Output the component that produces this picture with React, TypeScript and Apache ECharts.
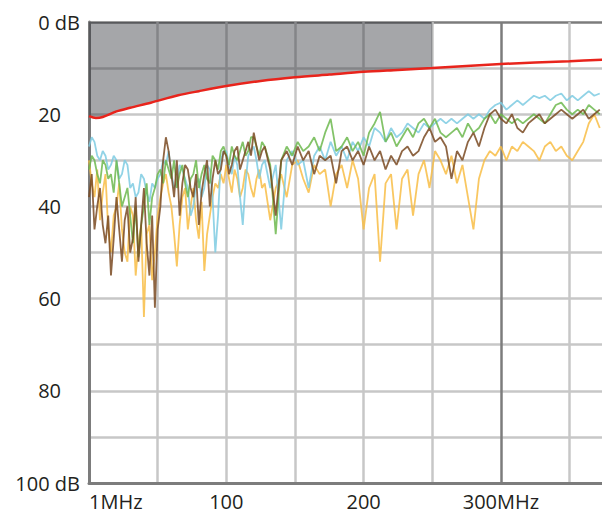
import React, { useEffect, useRef } from "react";
import * as echarts from "echarts";

// Frequency sample points (MHz)
const freqs = [
  0, 2, 4, 6, 8, 10, 12, 14, 16, 18, 20, 22, 24, 26, 28, 30, 32, 34, 36, 38,
  40, 42, 44, 46, 48, 50, 52, 54, 56, 58, 60, 62, 64, 66, 68, 70, 72, 74, 76, 78,
  80, 82, 84, 86, 88, 90, 92, 94, 96, 98, 100, 102, 104, 106, 108, 110, 112, 114, 116, 118,
  120, 122, 124, 126, 128,
  132, 136, 140, 144, 148, 152, 156,
  160, 164, 168, 172, 176, 180, 184, 188, 192, 196, 200, 204, 208, 212, 216, 220, 224, 228, 232, 236,
  240, 244, 248, 252, 256, 260, 264, 268, 272, 276, 280, 284, 288, 292, 296, 300, 304, 308, 312, 316,
  320, 324, 328, 332, 336, 340, 344, 348, 352, 356, 360, 364, 368, 372,
];

// Measured attenuation (dB) per trace
const brownDb = [
  38, 33, 45, 40, 36, 44, 48, 42, 55, 47, 38, 45, 52, 43, 40, 50, 47, 38, 52, 44,
  36, 48, 55, 42, 62, 45, 40, 30, 25, 28, 33, 38, 30, 42, 35, 31, 32, 36, 38, 33,
  44, 37, 33, 30, 40, 34, 30, 33, 32, 28, 29, 33, 31, 28, 27, 32, 30, 28, 26, 29,
  24, 27, 30, 28, 27,
  32, 42, 30, 28, 31, 27, 30,
  28, 33, 29, 30, 29, 35, 28, 27, 30, 28, 31, 27, 30, 28, 32, 29, 31, 28, 27, 29,
  28, 25, 23, 26, 25, 27, 34, 28, 30, 26, 24, 27, 23, 20, 19, 21, 22, 20, 23, 24,
  22, 21, 20, 22, 21, 20, 19, 20, 21, 20, 19, 21, 20, 19,
];
const yellowDb = [
  30, 35, 38, 32, 43, 37, 33, 45, 50, 42, 40, 35, 45, 50, 52, 40, 42, 55, 48, 44,
  64, 46, 44, 56, 50, 42, 38, 35, 33, 37, 40, 46, 53, 44, 38, 36, 45, 40, 36, 43,
  47, 39, 54, 46, 42, 38, 35, 36, 33, 35, 31, 34, 37, 32, 34, 38, 36, 32, 33, 36,
  38, 34, 32, 36, 35,
  43, 36, 33, 38, 31, 30, 34,
  37, 31, 33, 32, 40, 33, 31, 36, 30, 34, 45, 36, 33, 52, 35, 33, 45, 34, 32, 42,
  33, 30, 36, 28, 30, 33, 29, 35, 31, 38, 45, 34, 30, 28, 29, 27, 30, 27, 28, 26,
  27, 28, 30, 27, 26, 28, 27, 29, 30, 28, 26, 22, 20, 23,
];
const greenDb = [
  32, 29, 30, 33, 35, 30, 31, 34, 33, 37, 30, 35, 40, 38, 36, 42, 48, 40, 51, 44,
  40, 35, 44, 38, 36, 33, 32, 35, 30, 32, 34, 30, 36, 33, 31, 35, 38, 34, 33, 30,
  36, 33, 31, 34, 35, 29, 30, 32, 28, 27, 29, 31, 27, 29, 30, 28, 26, 29, 28, 25,
  25, 27, 29, 26, 27,
  31, 46, 30, 27, 29, 26, 28,
  27, 25, 28, 24, 21, 28, 27, 25, 28, 26, 29, 24, 22, 19.5, 26, 24, 27, 25, 23, 25,
  22, 21, 23, 21, 24, 25, 24, 23, 25, 22, 24, 23, 21, 20, 22, 20, 21, 22, 21, 22,
  21, 20, 21, 22, 20, 18, 17.5, 19, 20, 19, 20, 18, 19, 20,
];
const blueDb = [
  27, 25, 26, 29, 30, 28, 29, 32, 31, 29, 30, 34, 33, 30, 31, 36, 35, 38, 37, 33,
  34, 37, 39, 35, 36, 34, 33, 30, 31, 28, 33, 36, 35, 31, 32, 34, 36, 42, 40, 35,
  34, 38, 36, 31, 32, 38, 50, 42, 30, 28, 28, 31, 33, 29, 31, 38, 44, 35, 29, 28,
  27, 30, 34, 31, 30,
  36, 31, 45, 30, 28, 31, 30,
  36, 29, 27, 30, 26, 29, 27, 30, 26, 28, 25, 27, 23, 24, 26, 23, 25, 24, 22, 23,
  24, 22, 23, 22, 21, 22, 21, 22, 21, 20, 21, 20, 21, 19, 18, 17.5, 19, 18, 17, 18,
  17, 16, 16.5, 16, 17, 16, 15.5, 17, 16, 17, 16, 15, 16, 15.5,
];

// Limit curve
const limitFreqs = [0, 5, 10, 20, 30, 45, 65, 80, 100, 125, 150, 175, 200, 225, 250, 300, 350, 374];
const limitDb = [20.4, 20.8, 20.6, 19.4, 18.6, 17.5, 15.9, 15.0, 13.9, 12.8, 12.0, 11.4, 10.8, 10.4, 10.0, 9.1, 8.5, 8.2];
const shadedUpTo = 250;

// Axis labels
const xTickLabels: Record<number, string> = { 0: "1MHz", 100: "100", 200: "200", 300: "300MHz" };
const yTickLabels: Record<number, string> = { 0: "0 dB", 20: "20", 40: "40", 60: "60", 80: "80", 100: "100 dB" };

const zip = (xs: number[], ys: number[]) => xs.map((x, i) => [x, ys[i]]);

export default function App() {
  const ref = useRef<HTMLDivElement>(null);
  useEffect(() => {
    if (!ref.current) return;
    const chart = echarts.init(ref.current, null, { renderer: "svg" });
    const font = "'Open Sans', sans-serif";
    const light = "#c7c7c7";
    const dark = "#7c7c7c";
    const limitData = zip(limitFreqs, limitDb);
    const shadeData = limitData.filter((d) => d[0] <= shadedUpTo);
    const traceStyle = (color: string) => ({
      type: "line" as const,
      symbol: "none",
      lineStyle: { color, width: 1.8, opacity: 0.85 },
      z: 3,
    });
    chart.setOption({
      animation: false,
      backgroundColor: "#ffffff",
      grid: {
        left: 89,
        top: 22,
        width: 513.5,
        height: 461,
        containLabel: false,
        outerBoundsMode: "none",
      },
      xAxis: {
        type: "value",
        min: 0,
        max: 374,
        interval: 50,
        axisLine: { show: true, onZero: false, lineStyle: { color: dark, width: 3 } },
        axisTick: { show: false },
        splitLine: {
          show: true,
          showMaxLine: false,
          lineStyle: {
            width: 2.5,
            color: [dark, light, light, light, light, light, dark, light, light],
          },
        },
        axisLabel: {
          margin: 8,
          fontFamily: font,
          fontSize: 20,
          color: "#231f20",
          alignMinLabel: "left",
          formatter: (v: number) => xTickLabels[v] ?? "",
        },
      },
      yAxis: {
        type: "value",
        inverse: true,
        min: 0,
        max: 100,
        interval: 10,
        axisLine: { show: true, lineStyle: { color: dark, width: 3 } },
        axisTick: { show: false },
        splitLine: {
          show: true,
          lineStyle: {
            width: 2.5,
            color: [dark, light, light, light, light, light, light, light, light, light, dark],
          },
        },
        axisLabel: {
          margin: 9,
          align: "right",
          fontFamily: font,
          fontSize: 20,
          color: "#231f20",
          formatter: (v: number) => {
            const t = yTickLabels[v];
            if (t === undefined) return "";
            if (t.indexOf("dB") >= 0) return "{n|" + t + "}";
            return "{n|" + t + "}{p| }";
          },
          rich: {
            n: { fontFamily: font, fontSize: 20, color: "#231f20" },
            p: { width: 19, fontSize: 20 },
          },
        },
      },
      series: [
        {
          type: "line",
          data: shadeData,
          symbol: "none",
          lineStyle: { width: 0 },
          areaStyle: { origin: "start", color: "rgba(37,38,45,0.41)", opacity: 1 },
          z: 1,
        },
        { ...traceStyle("#f8bd45"), data: zip(freqs, yellowDb) },
        { ...traceStyle("#7ecbe2"), data: zip(freqs, blueDb) },
        { ...traceStyle("#6db84f"), data: zip(freqs, greenDb) },
        { ...traceStyle("#7a4a22"), data: zip(freqs, brownDb) },
        {
          type: "line",
          data: limitData,
          symbol: "none",
          smooth: 0.3,
          lineStyle: { color: "#e8241c", width: 2.5 },
          z: 5,
        },
      ],
    });
    return () => chart.dispose();
  }, []);
  return (
    <div
      ref={ref}
      style={{ position: "absolute", left: 0, top: 0, width: 602, height: 514 }}
    />
  );
}
